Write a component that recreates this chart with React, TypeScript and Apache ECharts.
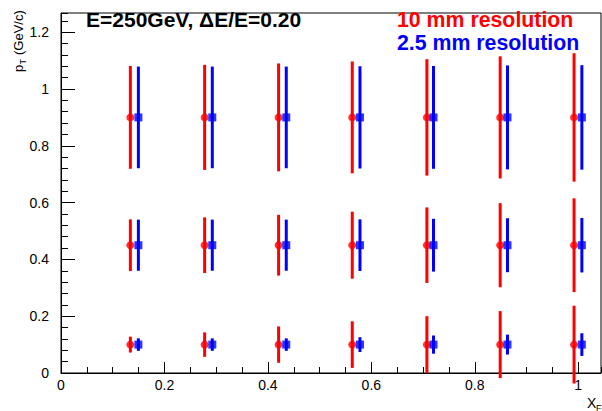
import React, { useEffect, useRef } from 'react';
import * as echarts from 'echarts';

const FONT = '"Liberation Sans", Arial, Helvetica, sans-serif';

// x positions (x_F) of the two series
const xRed = [0.1341, 0.2777, 0.4207, 0.5631, 0.7074, 0.8491, 0.9919];
const xBlue = [0.1496, 0.2925, 0.4355, 0.578, 0.7202, 0.8632, 1.007];

// pT rows
const ptRows = [0.9, 0.45, 0.1];

// half error bars, per row (high, mid, low)
const redErrHigh = [0.181, 0.185, 0.19, 0.197, 0.205, 0.215, 0.226];
const redErrMid = [0.091, 0.098, 0.107, 0.118, 0.133, 0.148, 0.165];
const redErrLow = [0.028, 0.043, 0.064, 0.082, 0.1, 0.118, 0.137];
const blueErrHigh = [0.179, 0.179, 0.179, 0.18, 0.181, 0.183, 0.184];
const blueErrMid = [0.09, 0.09, 0.09, 0.091, 0.093, 0.095, 0.096];
const blueErrLow = [0.022, 0.022, 0.022, 0.026, 0.032, 0.035, 0.04];

const XMAX = 1.044;
const YMAX = 1.2676;

const redErr = [redErrHigh, redErrMid, redErrLow];
const blueErr = [blueErrHigh, blueErrMid, blueErrLow];

function buildData(xs: number[], errs: number[][]) {
  const out: number[][] = [];
  ptRows.forEach((y, r) => {
    xs.forEach((x, i) => out.push([x, y, errs[r][i]]));
  });
  return out;
}

function errSeries(name: string, data: number[][], color: string) {
  return {
    type: 'custom',
    name,
    xAxisIndex: 0,
    yAxisIndex: 0,
    clip: false,
    encode: { x: 0, y: 1 },
    data,
    z: 2,
    renderItem: (params: any, api: any) => {
      const x = api.value(0);
      const y = api.value(1);
      const e = api.value(2);
      const p1 = api.coord([x, y + e]);
      const p2 = api.coord([x, y - e]);
      return {
        type: 'line',
        shape: { x1: p1[0], y1: p1[1], x2: p2[0], y2: p2[1] },
        style: { stroke: color, lineWidth: 3 },
      };
    },
  };
}

export default function App() {
  const ref = useRef<HTMLDivElement>(null);
  useEffect(() => {
    if (!ref.current) return;
    const chart = echarts.init(ref.current, null, { renderer: 'svg' });
    const redData = buildData(xRed, redErr);
    const blueData = buildData(xBlue, blueErr);
    const black = '#000';
    const option: any = {
      animation: false,
      grid: { left: 61, right: 1, top: 13, bottom: 38, show: true, borderColor: black, borderWidth: 1 },
      xAxis: [
        {
          type: 'value', min: 0, max: XMAX, interval: 0.2,
          axisLine: { show: true, onZero: false, lineStyle: { color: black, width: 1 } },
          axisTick: { inside: true, length: 11, lineStyle: { color: black } },
          axisLabel: { color: black, fontSize: 14, margin: 5, fontFamily: FONT, showMaxLabel: false },
          splitLine: { show: false },
        },
        {
          type: 'value', min: 0, max: XMAX, interval: 0.05, position: 'bottom',
          axisLine: { show: false },
          axisTick: { inside: true, length: 6, lineStyle: { color: black } },
          axisLabel: { show: false },
          splitLine: { show: false },
        },
      ],
      yAxis: [
        {
          type: 'value', min: 0, max: YMAX, interval: 0.2,
          axisLine: { show: true, onZero: false, lineStyle: { color: black, width: 1 } },
          axisTick: { inside: true, length: 14, lineStyle: { color: black } },
          axisLabel: { color: black, fontSize: 14, margin: 12, fontFamily: FONT, showMaxLabel: false },
          splitLine: { show: false },
        },
        {
          type: 'value', min: 0, max: YMAX, interval: 0.04, position: 'left',
          axisLine: { show: false },
          axisTick: { inside: true, length: 7, lineStyle: { color: black } },
          axisLabel: { show: false },
          splitLine: { show: false },
        },
      ],
      series: [
        errSeries('10 mm err', redData, '#ff0000'),
        errSeries('2.5 mm err', blueData, '#0000ff'),
        {
          type: 'scatter', name: '10 mm resolution', xAxisIndex: 0, yAxisIndex: 0,
          symbol: 'circle', symbolSize: 8, itemStyle: { color: '#ff0000' },
          data: redData.map((d) => [d[0], d[1]]), z: 3,
        },
        {
          type: 'scatter', name: '2.5 mm resolution', xAxisIndex: 0, yAxisIndex: 0,
          symbol: 'rect', symbolSize: 8, itemStyle: { color: '#0000ff' },
          data: blueData.map((d) => [d[0], d[1]]), z: 3,
        },
      ],
      graphic: [
        {
          type: 'text', left: 86, top: 9,
          style: { text: 'E=250GeV, \u0394E/E=0.20', fill: black, font: 'bold 21px ' + FONT },
        },
        {
          type: 'text', left: 397, top: 9,
          style: { text: '10 mm resolution', fill: '#ff0000', font: 'bold 21.3px ' + FONT },
        },
        {
          type: 'text', left: 397, top: 32,
          style: { text: '2.5 mm resolution', fill: '#0000ff', font: 'bold 21.3px ' + FONT },
        },
        {
          type: 'group', x: 18, y: 72, rotation: Math.PI / 2,
          children: [
            { type: 'text', x: 0, y: 0, style: { text: 'p', fill: black, font: '13px ' + FONT, textVerticalAlign: 'middle' } },
            { type: 'text', x: 7.5, y: 5, style: { text: 'T', fill: black, font: '9px ' + FONT, textVerticalAlign: 'middle' } },
            { type: 'text', x: 17, y: 0, style: { text: '(GeV/c)', fill: black, font: '13px ' + FONT, textVerticalAlign: 'middle' } },
          ],
        },
        { type: 'text', x: 587, y: 396, style: { text: 'X', fill: black, font: '14px ' + FONT } },
        { type: 'text', x: 596, y: 403, style: { text: 'F', fill: black, font: '9px ' + FONT } },
      ],
    };
    chart.setOption(option);
    return () => chart.dispose();
  }, []);
  return <div ref={ref} style={{ width: 602, height: 411, position: 'absolute', left: 0, top: 0 }} />;
}
